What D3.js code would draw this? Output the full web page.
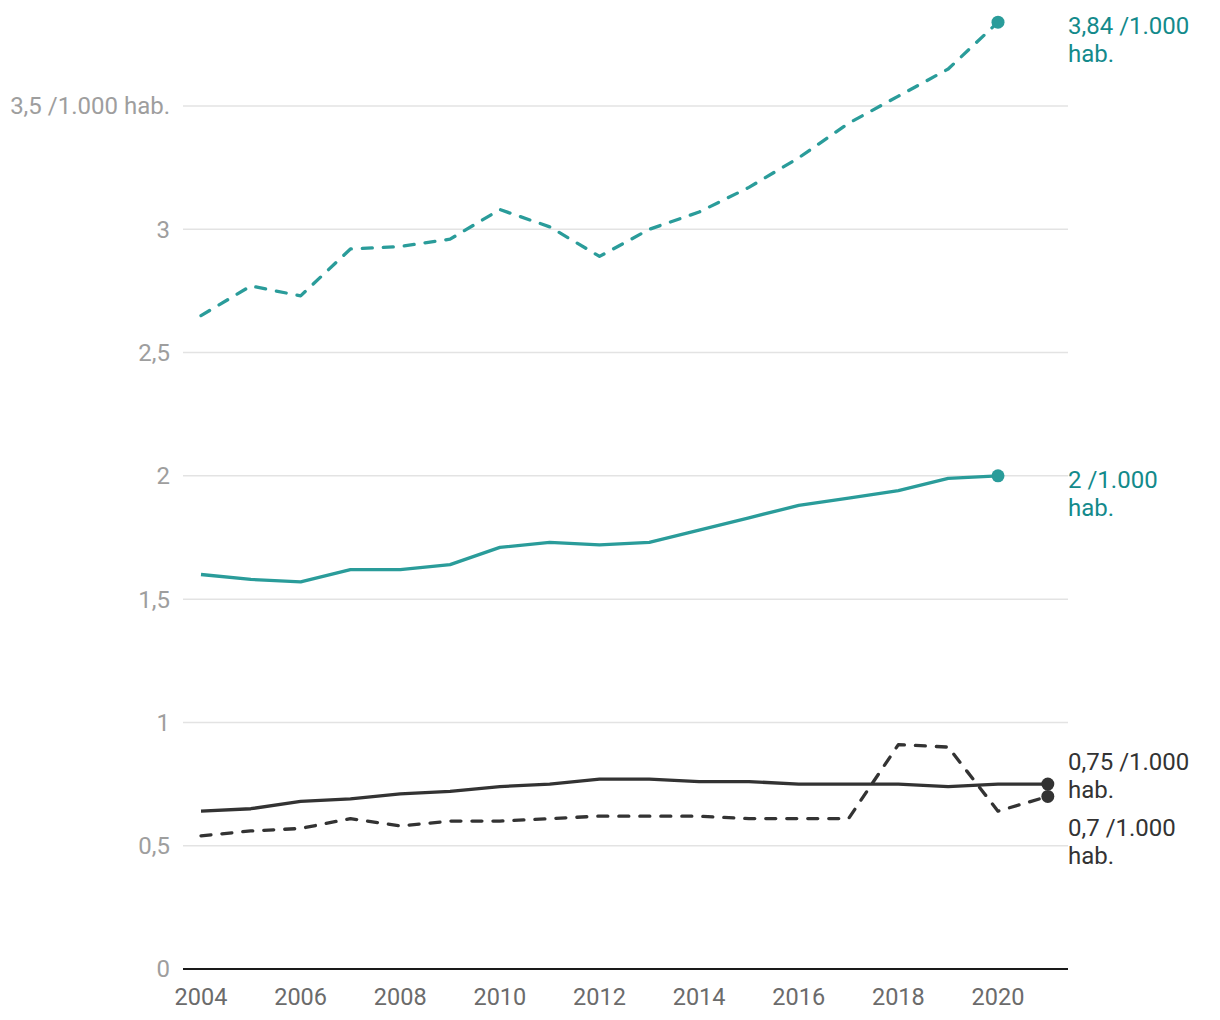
<!DOCTYPE html>
<html><head><meta charset="utf-8">
<script src="https://cdn.jsdelivr.net/npm/d3@7"></script>
<style>body{margin:0;background:#fff;font-family:Roboto,"Noto Sans",sans-serif;}</style>
</head><body><svg id="c" width="1220" height="1020"></svg>
<script>
const years = d3.range(2004, 2022);
const tealDashed = [2.65,2.77,2.73,2.92,2.93,2.96,3.08,3.01,2.89,3.00,3.07,3.17,3.29,3.43,3.54,3.65,3.84];
const tealSolid = [1.60,1.58,1.57,1.62,1.62,1.64,1.71,1.73,1.72,1.73,1.78,1.83,1.88,1.91,1.94,1.99,2.00];
const darkSolid = [0.64,0.65,0.68,0.69,0.71,0.72,0.74,0.75,0.77,0.77,0.76,0.76,0.75,0.75,0.75,0.74,0.75,0.75];
const darkDashed = [0.54,0.56,0.57,0.61,0.58,0.60,0.60,0.61,0.62,0.62,0.62,0.61,0.61,0.61,0.91,0.90,0.64,0.70];
const yTicks = [0,0.5,1,1.5,2,2.5,3,3.5];
const yTickLabels = ["0","0,5","1","1,5","2","2,5","3","3,5 /1.000 hab."];
const xTicks = [2004,2006,2008,2010,2012,2014,2016,2018,2020];
const endLabels = [
  {lines:["3,84 /1.000","hab."], series:"tealDashed"},
  {lines:["2 /1.000","hab."], series:"tealSolid"},
  {lines:["0,75 /1.000","hab."], series:"darkSolid"},
  {lines:["0,7 /1.000","hab."], series:"darkDashed"}
];

const TEAL = "#2a9c9a", TEAL_TXT = "#138a8b", DARK = "#333333";
const svg = d3.select("#c");
const x = d3.scaleLinear().domain([2004, 2020]).range([201, 998]);
const y = d3.scaleLinear().domain([0, 3.5]).range([969, 106]);
const left = 183, right = 1068;

const g = svg.append("g");
yTicks.forEach((t,i)=>{
  if (t>0) g.append("line").attr("x1", left).attr("x2", right).attr("y1", y(t)).attr("y2", y(t))
     .attr("stroke", "#e3e3e3").attr("stroke-width", 1.5);
  g.append("text").attr("x", 170).attr("y", y(t)).attr("dy", "0.35em").attr("text-anchor","end")
   .attr("font-size", 24).attr("fill", "#9e9e9e").text(yTickLabels[i]);
});
g.append("line").attr("x1", left).attr("x2", right).attr("y1", y(0)).attr("y2", y(0))
 .attr("stroke", "#1a1a1a").attr("stroke-width", 2);
xTicks.forEach(t=>{
  g.append("text").attr("x", x(t)).attr("y", 1005).attr("text-anchor","middle")
   .attr("font-size", 23.5).attr("fill", "#6b6b6b").text(t);
});

const line = d3.line().x(d=>x(d[0])).y(d=>y(d[1]));
const series = {
  tealDashed:{vals:tealDashed, color:TEAL, dash:"10,11", txt:TEAL_TXT},
  tealSolid:{vals:tealSolid, color:TEAL, dash:null, txt:TEAL_TXT},
  darkSolid:{vals:darkSolid, color:DARK, dash:null, txt:DARK},
  darkDashed:{vals:darkDashed, color:DARK, dash:"10,11", txt:DARK}
};
Object.values(series).forEach(s=>{
  const pts = s.vals.map((v,i)=>[years[i], v]);
  s.pts = pts;
  svg.append("path").attr("d", line(pts)).attr("fill","none").attr("stroke", s.color)
    .attr("stroke-width", 3.3).attr("stroke-dasharray", s.dash)
    .attr("stroke-linecap", s.dash ? "round" : "butt").attr("stroke-linejoin","round");
});
Object.values(series).forEach(s=>{
  const last = s.pts[s.pts.length-1];
  svg.append("circle").attr("cx", x(last[0])).attr("cy", y(last[1])).attr("r", 6.5).attr("fill", s.color);
});
const labelY = {tealDashed:34, tealSolid:488, darkSolid:770, darkDashed:836};
endLabels.forEach(l=>{
  const s = series[l.series];
  const t = svg.append("text").attr("x", 1068).attr("y", labelY[l.series]).attr("font-size", 24).attr("fill", s.txt);
  l.lines.forEach((ln,i)=>t.append("tspan").attr("x",1068).attr("dy", i===0?0:28).text(ln));
});
</script></body></html>
